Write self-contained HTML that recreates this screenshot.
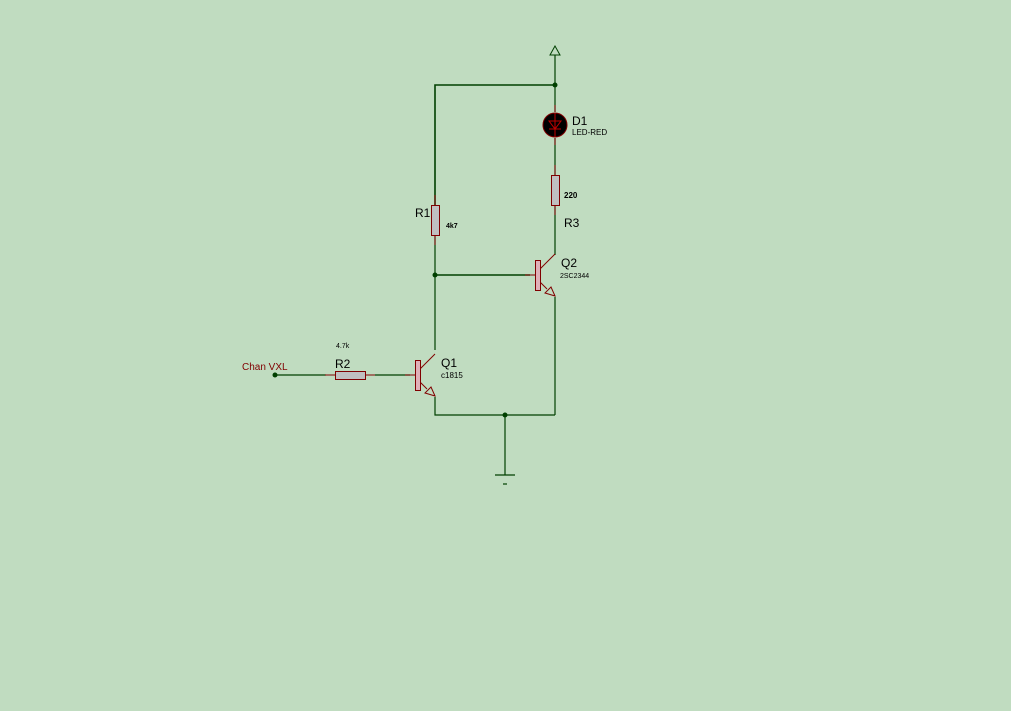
<!DOCTYPE html>
<html><head><meta charset="utf-8"><style>
html,body{margin:0;padding:0;background:#c0dcc0;}
svg{display:block;}
text{font-family:"Liberation Sans",sans-serif;}
</style></head><body>
<svg width="1011" height="711" viewBox="0 0 1011 711" xmlns="http://www.w3.org/2000/svg">
<rect width="1011" height="711" fill="#c0dcc0"/>
<g stroke="#004000" stroke-width="1.2" fill="none">
<line x1="555" y1="55" x2="555" y2="112"/>
<polygon points="555,46 550,55 560,55" stroke-width="1"/>
<polyline points="435,205 435,85 555,85" stroke-width="1.6"/>
<line x1="555" y1="138" x2="555" y2="175"/>
<line x1="555" y1="205" x2="555" y2="255"/>
<line x1="435" y1="235" x2="435" y2="350"/>
<line x1="435" y1="275" x2="530" y2="275" stroke-width="1.6"/>
<line x1="555" y1="297" x2="555" y2="415"/>
<polyline points="435,397 435,415 555,415"/>
<line x1="505" y1="415" x2="505" y2="475"/>
<line x1="495" y1="475" x2="515" y2="475"/>
<line x1="503" y1="484" x2="507" y2="484"/>
<line x1="276" y1="375" x2="326" y2="375"/>
<line x1="375" y1="375" x2="410" y2="375"/>
</g>
<g fill="#004000">
<circle cx="555" cy="85" r="2.5"/>
<circle cx="435" cy="275" r="2.5"/>
<circle cx="505" cy="415" r="2.5"/>
<circle cx="275" cy="375" r="2.5"/>
</g>
<g stroke="#800000" stroke-width="1" fill="none">
<line x1="555" y1="105" x2="555" y2="112"/>
<line x1="555" y1="138" x2="555" y2="145"/>
<line x1="555" y1="165" x2="555" y2="175"/>
<line x1="555" y1="205" x2="555" y2="215"/>
<line x1="435" y1="195" x2="435" y2="205"/>
<line x1="435" y1="235" x2="435" y2="245"/>
<line x1="325" y1="375" x2="335" y2="375"/>
<line x1="365" y1="375" x2="375" y2="375"/>
<line x1="525" y1="275" x2="535" y2="275"/>
<line x1="405" y1="375" x2="415" y2="375"/>
<line x1="540" y1="269" x2="555" y2="254"/>
<line x1="540" y1="282" x2="547" y2="289"/>
<polygon points="555,296 545,293 551,287" fill="#c0dcc0"/>
<line x1="420" y1="369" x2="435" y2="354"/>
<line x1="420" y1="382" x2="427" y2="389"/>
<polygon points="435,396 425,393 431,387" fill="#c0dcc0"/>
</g>
<g fill="#c0c0c0" stroke="#800000" stroke-width="1">
<rect x="551.5" y="175.5" width="8" height="30"/>
<rect x="431.5" y="205.5" width="8" height="30"/>
<rect x="335.5" y="371.5" width="30" height="8"/>
</g>
<g fill="#e0b0b8" stroke="#800000" stroke-width="1">
<rect x="535.5" y="260.5" width="5" height="30"/>
<rect x="415.5" y="360.5" width="5" height="30"/>
</g>
<circle cx="555" cy="125" r="12" fill="#000" stroke="#800000" stroke-width="1"/>
<g stroke="#c00000" stroke-width="1" fill="none">
<line x1="555" y1="113" x2="555" y2="137"/>
<polygon points="549,121 561,121 555,129"/>
<line x1="549" y1="129" x2="561" y2="129"/>
</g>
<g fill="#000">
<text x="572" y="125" font-size="12">D1</text>
<text x="572" y="135" font-size="8">LED-RED</text>
<text x="564" y="198" font-size="8" font-weight="bold">220</text>
<text x="564" y="227" font-size="12">R3</text>
<text x="415" y="217" font-size="12">R1</text>
<text x="446" y="228" font-size="7" font-weight="bold">4k7</text>
<text x="561" y="267" font-size="12">Q2</text>
<text x="560" y="278" font-size="7">2SC2344</text>
<text x="441" y="367" font-size="12">Q1</text>
<text x="441" y="378" font-size="8">c1815</text>
<text x="335" y="368" font-size="12">R2</text>
<text x="336" y="348" font-size="7">4.7k</text>
</g>
<text x="242" y="370" font-size="10" fill="#800000">Chan VXL</text>
</svg>
</body></html>
